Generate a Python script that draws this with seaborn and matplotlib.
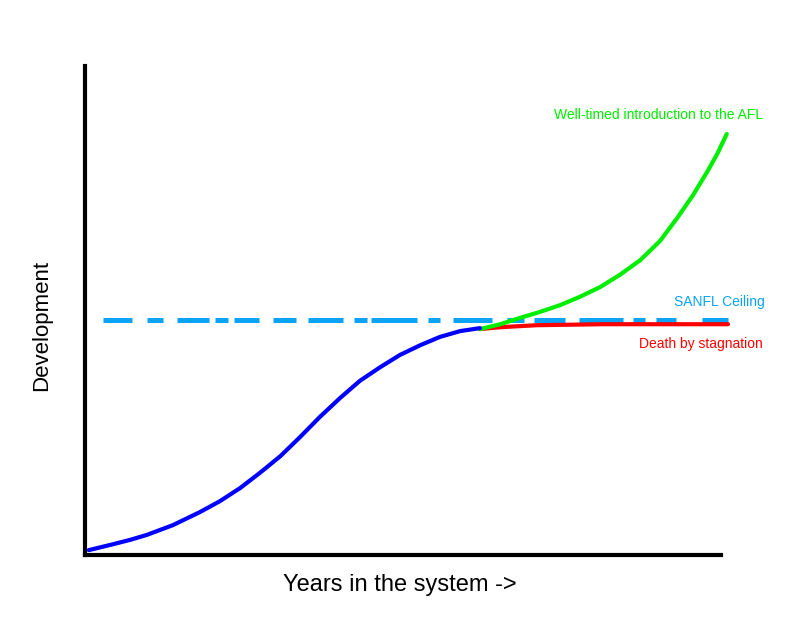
import matplotlib
matplotlib.use("Agg")
import matplotlib.pyplot as plt
import seaborn as sns

# Curves (x: years, y: development, both on a 0-10 scale)
blue_x = [0.06, 0.44, 0.71, 0.97, 1.38, 1.81, 2.12, 2.44, 2.75, 3.07, 3.38, 3.69,
          4.01, 4.32, 4.64, 4.95, 5.27, 5.58, 5.90, 6.21]
blue_y = [0.10, 0.22, 0.31, 0.41, 0.61, 0.88, 1.10, 1.37, 1.68, 2.02, 2.41, 2.82,
          3.21, 3.56, 3.84, 4.09, 4.29, 4.46, 4.58, 4.64]

green_x = [6.21, 6.53, 6.84, 7.15, 7.47, 7.78, 8.10, 8.41, 8.73, 9.04, 9.31, 9.56,
           9.78, 9.94, 10.09]
green_y = [4.62, 4.72, 4.85, 4.97, 5.11, 5.28, 5.48, 5.73, 6.03, 6.42, 6.89, 7.36,
           7.83, 8.20, 8.61]

red_x = [6.21, 6.45, 6.68, 7.11, 7.63, 8.14, 10.11]
red_y = [4.62, 4.65, 4.67, 4.70, 4.71, 4.72, 4.72]

ceiling_x = [0.28, 10.11]
ceiling_level = 4.81

label_growth = "Well-timed introduction to the AFL"
label_ceiling = "SANFL Ceiling"
label_stagnation = "Death by stagnation"
x_label = "Years in the system ->"
y_label = "Development"

sns.set_style("white")
plt.rcParams["font.family"] = ["Liberation Sans", "DejaVu Sans"]
plt.rcParams["lines.scale_dashes"] = False

fig = plt.figure(figsize=(8, 6.4), dpi=100)
ax = fig.add_axes([0.10625, 0.1328, 0.795, 0.764])

# hand-drawn looking dash-dot pattern of the ceiling line (pixels -> points)
dash_px = [29, 15, 16, 14, 32, 6, 13, 6, 25, 14, 23, 12, 35, 11, 13, 4, 46, 11,
           12, 13, 39, 15, 17, 10, 31, 14, 44, 10, 12, 11, 20, 26, 26, 40]
dash_pt = tuple(v * 0.72 for v in dash_px)

sns.lineplot(x=ceiling_x, y=[ceiling_level] * len(ceiling_x), ax=ax,
             color="#0aa3f5", linewidth=3.6, sort=False, estimator=None)
ax.lines[-1].set_linestyle((0, dash_pt))
ax.lines[-1].set_dash_capstyle("butt")

sns.lineplot(x=red_x, y=red_y, ax=ax, color="#ff0000", linewidth=3,
             sort=False, estimator=None)
sns.lineplot(x=green_x, y=green_y, ax=ax, color="#00ee00", linewidth=3,
             sort=False, estimator=None)
sns.lineplot(x=blue_x, y=blue_y, ax=ax, color="#0000ff", linewidth=3,
             sort=False, estimator=None)

for line in ax.lines:
    line.set_clip_on(False)
    line.set_solid_capstyle("round")
    line.set_solid_joinstyle("round")

ax.set_xlim(0, 10)
ax.set_ylim(0, 10)
ax.set_xticks([])
ax.set_yticks([])
for side in ["top", "right"]:
    ax.spines[side].set_visible(False)
for side in ["left", "bottom"]:
    ax.spines[side].set_color("black")
    ax.spines[side].set_linewidth(3)

fig.text(0.954, 0.820, label_growth, color="#00ee00", fontsize=10,
         ha="right", va="center")
fig.text(0.956, 0.528, label_ceiling, color="#0aa3f5", fontsize=10,
         ha="right", va="center")
fig.text(0.954, 0.4625, label_stagnation, color="#ff0000", fontsize=10,
         ha="right", va="center")

fig.text(0.5, 0.086, x_label, fontsize=17, color="black",
         ha="center", va="center")
fig.text(0.0525, 0.491, y_label, fontsize=16, color="black",
         ha="center", va="center", rotation=90)

fig.savefig("out.png", dpi=100, facecolor="white")
